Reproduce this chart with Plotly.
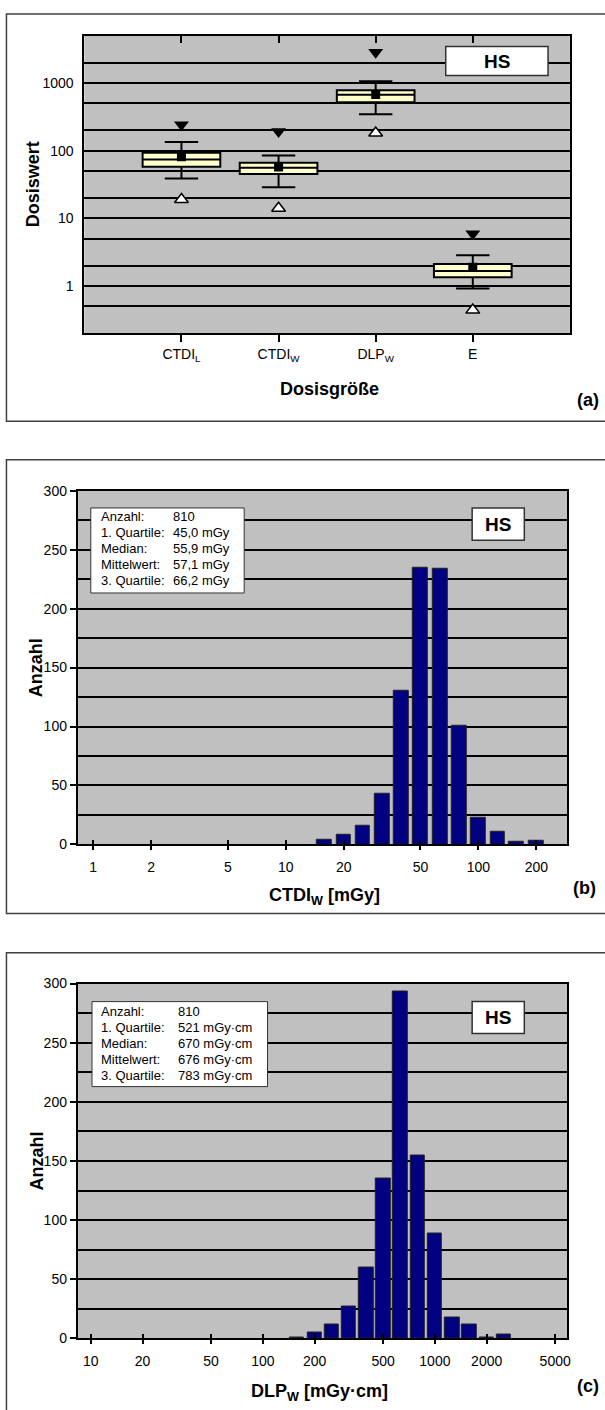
import numpy as np
import plotly.graph_objects as go

# ---------------- data ----------------
categories = ["CTDI<sub>L</sub>", "CTDI<sub>W</sub>", "DLP<sub>W</sub>", "E"]
box_q1 = [58, 45.0, 521, 1.35]
box_median = [74, 55.9, 670, 1.67]
box_q3 = [93, 66.2, 783, 2.11]
box_mean = [81, 57.1, 676, 1.89]
whisker_low = [38.8, 28.8, 344, 0.92]
whisker_high = [134, 84.6, 1058, 2.85]
min_values = [19, 14.1, 182, 0.44]
max_values = [242, 191, 2855, 5.9]

ctdi_bin_centers = [15.8, 20.0, 25.1, 31.6, 39.8, 50.1, 63.1, 79.4, 100, 126, 158, 200]
ctdi_counts = [4, 8, 16, 43, 130, 235, 234, 101, 23, 11, 2, 3]
ctdi_ticks = [1, 2, 5, 10, 20, 50, 100, 200]

dlp_bin_centers = [158, 200, 251, 316, 398, 501, 631, 794, 1000, 1259, 1585, 1995, 2512]
dlp_counts = [1, 5, 12, 27, 60, 135, 293, 155, 89, 18, 12, 1, 3]
dlp_ticks = [10, 20, 50, 100, 200, 500, 1000, 2000, 5000]

stat_labels = ["Anzahl:", "1. Quartile:", "Median:", "Mittelwert:", "3. Quartile:"]
ctdi_stat_values = ["810", "45,0 mGy", "55,9 mGy", "57,1 mGy", "66,2 mGy"]
dlp_stat_values = ["810", "521 mGy·cm", "670 mGy·cm", "676 mGy·cm", "783 mGy·cm"]

# ---------------- geometry helpers ----------------
W, H = 605, 1410
FONT = "Liberation Sans, Arial, sans-serif"


def px(x):
    return x / W


def py(y):
    return 1 - y / H


A_X, A_Y = (84.9, 573.7), (28, 329)
B_X, B_Y = (78.3, 571), (488.3, 846)
C_X, C_Y = (78.3, 571), (986.7, 1345.7)

positions = list(range(1, len(categories) + 1))

fig = go.Figure()

# ---------------- panel (a) ----------------
fig.add_trace(go.Box(
    x=positions, q1=box_q1, median=box_median, q3=box_q3,
    lowerfence=whisker_low, upperfence=whisker_high,
    width=0.8, whiskerwidth=0.43, boxpoints=False,
    fillcolor="#FFFFCC", line=dict(color="black", width=2),
    xaxis="x", yaxis="y", showlegend=False, hoverinfo="skip"))
fig.add_trace(go.Scatter(
    x=positions, y=box_mean, mode="markers",
    marker=dict(symbol="square", size=9, color="black"),
    xaxis="x", yaxis="y", showlegend=False))
fig.add_trace(go.Scatter(
    x=positions, y=max_values, mode="markers",
    marker=dict(symbol="triangle-down", size=13, color="black"),
    xaxis="x", yaxis="y", showlegend=False))
fig.add_trace(go.Scatter(
    x=positions, y=min_values, mode="markers",
    marker=dict(symbol="triangle-up", size=12, color="white",
                line=dict(color="black", width=1.5)),
    xaxis="x", yaxis="y", showlegend=False))
fig.add_trace(go.Scatter(x=[None], y=[None], xaxis="x4", yaxis="y", showlegend=False))

# ---------------- panel (b) ----------------
fig.add_trace(go.Bar(
    x=np.log10(ctdi_bin_centers), y=ctdi_counts, width=0.077,
    marker=dict(color="#000080", line=dict(color="#222222", width=1)),
    xaxis="x2", yaxis="y2", showlegend=False))
fig.add_trace(go.Scatter(x=[None], y=[None], xaxis="x5", yaxis="y2", showlegend=False))

# ---------------- panel (c) ----------------
fig.add_trace(go.Bar(
    x=np.log10(dlp_bin_centers), y=dlp_counts, width=0.084,
    marker=dict(color="#000080", line=dict(color="#222222", width=1)),
    xaxis="x3", yaxis="y3", showlegend=False))
fig.add_trace(go.Scatter(x=[None], y=[None], xaxis="x6", yaxis="y3", showlegend=False))

tickfont = dict(family=FONT, size=14, color="black")
axline = dict(showline=True, linecolor="black", linewidth=2, mirror=True)
grid = dict(showgrid=True, gridcolor="black", gridwidth=1.5)

b_range = [-0.0797, 2.461]
c_range = [0.9244, 3.769]

fig.update_layout(
    width=W, height=H, margin=dict(l=0, r=0, t=0, b=0),
    paper_bgcolor="white", plot_bgcolor="#C0C0C0",
    font=dict(family=FONT, color="black"),
    showlegend=False,
    bargap=0,
    # (a)
    xaxis=dict(domain=[px(A_X[0]), px(A_X[1])], anchor="y", range=[0, 5],
               tickvals=positions, ticktext=categories, ticks="outside",
               ticklen=7, tickcolor="black", tickwidth=1.5, showgrid=False,
               zeroline=False, tickfont=tickfont, ticklabelstandoff=0, **axline),
    yaxis=dict(domain=[py(A_Y[1]), py(A_Y[0])], anchor="x", type="log",
               range=[np.log10(0.2), np.log10(5000)],
               tickvals=[1, 10, 100, 1000], ticktext=["1", "10", "100", "1000"],
               ticks="", tickfont=tickfont, ticklabelstandoff=6, zeroline=False,
               minor=dict(tickvals=[0.5, 2, 5, 20, 50, 200, 500, 2000],
                          showgrid=True, gridcolor="black", gridwidth=1.5, ticks=""),
               **grid, **axline),
    xaxis4=dict(overlaying="x", anchor="y", side="top", range=[0, 5],
                tickvals=positions, ticks="inside", ticklen=7, tickcolor="black",
                tickwidth=1.5, showticklabels=False, showgrid=False,
                zeroline=False, showline=False),
    # (b)
    xaxis2=dict(domain=[px(B_X[0]), px(B_X[1])], anchor="y2", range=b_range,
                tickvals=np.log10(ctdi_ticks), ticktext=[str(v) for v in ctdi_ticks],
                ticks="outside", ticklen=4, tickcolor="black", tickwidth=1.5,
                showgrid=False, zeroline=False, tickfont=tickfont,
                ticklabelstandoff=5, **axline),
    yaxis2=dict(domain=[py(B_Y[1]), py(B_Y[0])], anchor="x2", range=[0, 300],
                tickvals=[0, 50, 100, 150, 200, 250, 300], ticks="outside",
                ticklen=6, tickcolor="black", tickwidth=1.5, tickfont=tickfont,
                zeroline=False,
                minor=dict(dtick=25, tick0=0, showgrid=True, gridcolor="black",
                           gridwidth=1.5, ticks=""),
                **grid, **axline),
    xaxis5=dict(overlaying="x2", anchor="y2", side="bottom", range=b_range,
                tickvals=np.log10(ctdi_ticks), ticks="inside", ticklen=4,
                tickcolor="black", tickwidth=1.5, showticklabels=False,
                showgrid=False, zeroline=False, showline=False),
    # (c)
    xaxis3=dict(domain=[px(C_X[0]), px(C_X[1])], anchor="y3", range=c_range,
                tickvals=np.log10(dlp_ticks), ticktext=[str(v) for v in dlp_ticks],
                ticks="outside", ticklen=4, tickcolor="black", tickwidth=1.5,
                showgrid=False, zeroline=False, tickfont=tickfont,
                ticklabelstandoff=5, **axline),
    yaxis3=dict(domain=[py(C_Y[1]), py(C_Y[0])], anchor="x3", range=[0, 300],
                tickvals=[0, 50, 100, 150, 200, 250, 300], ticks="outside",
                ticklen=6, tickcolor="black", tickwidth=1.5, tickfont=tickfont,
                zeroline=False,
                minor=dict(dtick=25, tick0=0, showgrid=True, gridcolor="black",
                           gridwidth=1.5, ticks=""),
                **grid, **axline),
    xaxis6=dict(overlaying="x3", anchor="y3", side="bottom", range=c_range,
                tickvals=np.log10(dlp_ticks), ticks="inside", ticklen=4,
                tickcolor="black", tickwidth=1.5, showticklabels=False,
                showgrid=False, zeroline=False, showline=False),
)

shapes = []
annotations = []

# panel borders
for top, bottom in [(6, 418), (457, 916), (955.7, 1420)]:
    shapes.append(dict(type="rect", xref="paper", yref="paper",
                       x0=px(6.5), x1=px(620), y0=py(bottom), y1=py(top),
                       line=dict(color="#404040", width=1.5), fillcolor="rgba(0,0,0,0)"))

# HS boxes
for (x0, x1, y0, y1) in [(448.7, 551.7, 39, 68.3), (475.3, 527.8, 505.7, 538.3),
                         (475.3, 527.8, 1005, 1037.3)]:
    shapes.append(dict(type="rect", xref="paper", yref="paper",
                       x0=px(x0), x1=px(x1), y0=py(y1), y1=py(y0),
                       line=dict(color="#333333", width=1.5), fillcolor="white"))
    annotations.append(dict(text="<b>HS</b>", xref="paper", yref="paper",
                            x=px((x0 + x1) / 2), y=py((y0 + y1) / 2),
                            xanchor="center", yanchor="middle", showarrow=False,
                            font=dict(family=FONT, size=19, color="black")))

# statistics boxes
for (x0, x1, y0, y1, lab_x, val_x, first_y, values) in [
        (91.4, 245.8, 505.7, 591.7, 99.5, 172.1, 514.3, ctdi_stat_values),
        (92.6, 269.3, 1005, 1091, 99.5, 177.5, 1015.0, dlp_stat_values)]:
    shapes.append(dict(type="rect", xref="paper", yref="paper",
                       x0=px(x0), x1=px(x1), y0=py(y1), y1=py(y0),
                       line=dict(color="#333333", width=1), fillcolor="white"))
    for i, (lab, val) in enumerate(zip(stat_labels, values)):
        yy = py(first_y + i * 16.2)
        annotations.append(dict(text=lab, xref="paper", yref="paper", x=px(lab_x), y=yy,
                                xanchor="left", yanchor="middle", showarrow=False,
                                font=dict(family=FONT, size=13, color="black")))
        annotations.append(dict(text=val, xref="paper", yref="paper", x=px(val_x), y=yy,
                                xanchor="left", yanchor="middle", showarrow=False,
                                font=dict(family=FONT, size=13, color="black")))

# axis titles and panel labels
title_font = dict(family=FONT, size=18, color="black")
for text, x, y, angle in [
        ("<b>Dosiswert</b>", 34, 178.5, -90),
        ("<b>Dosisgröße</b>", 331.8, 385, 0),
        ("<b>Anzahl</b>", 37, 667, -90),
        ("<b>CTDI<sub>W</sub> [mGy]</b>", 327, 899, 0),
        ("<b>Anzahl</b>", 37, 1166, -90),
        ("<b>DLP<sub>W</sub> [mGy·cm]</b>", 321.8, 1400, 0),
        ("<b>(a)</b>", 592, 397, 0),
        ("<b>(b)</b>", 588, 890, 0),
        ("<b>(c)</b>", 592, 1394, 0)]:
    annotations.append(dict(text=text, xref="paper", yref="paper", x=px(x), y=py(y),
                            xanchor="center", yanchor="middle", showarrow=False,
                            textangle=angle, font=title_font))

fig.update_layout(shapes=shapes, annotations=annotations)

fig.write_html(
    "out.html",
    config={"displayModeBar": False},
    post_script="document.body.style.margin='0';document.body.style.overflow='hidden';",
)
